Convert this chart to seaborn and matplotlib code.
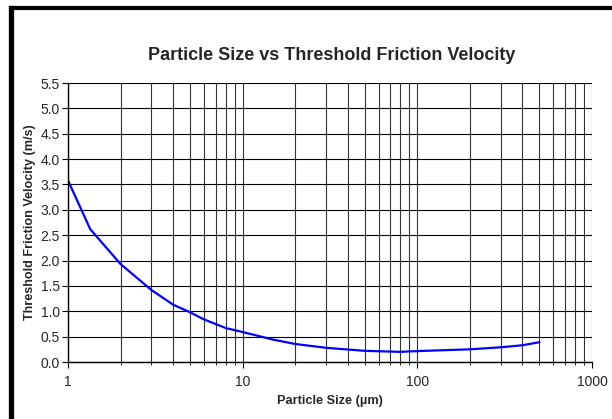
import matplotlib
matplotlib.use("Agg")
import matplotlib.pyplot as plt
import seaborn as sns
import pandas as pd
from matplotlib.lines import Line2D
from matplotlib.ticker import LogLocator, FixedLocator, NullFormatter

# --- data --------------------------------------------------------------
particle_size = [1, 1.34, 2, 3, 4, 5, 6, 8, 10, 15, 20, 30, 50, 80, 100, 200, 300, 400, 500]
threshold_velocity = [3.58, 2.62, 1.93, 1.42, 1.13, 0.98, 0.84, 0.67, 0.59, 0.44,
                      0.355, 0.28, 0.22, 0.20, 0.215, 0.25, 0.29, 0.33, 0.39]
y_ticks = [0.0, 0.5, 1.0, 1.5, 2.0, 2.5, 3.0, 3.5, 4.0, 4.5, 5.0, 5.5]
x_ticks = [1, 10, 100, 1000]

sns.set_style("white")
plt.rcParams["font.family"] = ["Liberation Sans", "DejaVu Sans"]

df = pd.DataFrame({"size": particle_size, "velocity": threshold_velocity})

fig = plt.figure(figsize=(6.12, 4.19), dpi=100)
ax = fig.add_axes([68 / 612, 1 - 362 / 419, (592 - 68) / 612, (362 - 83) / 419])

sns.lineplot(data=df, x="size", y="velocity", ax=ax, color="#0000ff", linewidth=1.6)

ax.set_xscale("log")
ax.set_xlim(1, 1000)
ax.set_ylim(0, 5.5)
ax.xaxis.set_major_locator(FixedLocator(x_ticks))
ax.set_xticklabels([str(t) for t in x_ticks])
ax.xaxis.set_minor_locator(LogLocator(base=10, subs=range(2, 10)))
ax.xaxis.set_minor_formatter(NullFormatter())
ax.set_yticks(y_ticks)
ax.set_yticklabels([f"{t:.1f}" for t in y_ticks])

ax.grid(True, which="both", axis="x", color="#333333", linewidth=0.8)
ax.grid(True, which="major", axis="y", color="#000000", linewidth=0.8)

for side in ["top", "right"]:
    ax.spines[side].set_visible(False)
for side in ["left", "bottom"]:
    ax.spines[side].set_color("black")
    ax.spines[side].set_linewidth(1.0)

ax.tick_params(axis="both", which="major", direction="out", length=4, width=0.8,
               color="black", labelsize=10, pad=2, bottom=True, left=True)
ax.tick_params(axis="x", which="major", pad=5)
ax.tick_params(axis="x", which="minor", direction="out", length=2, width=0.6, color="black", bottom=True)

ax.set_xlabel("Particle Size (µm)", fontsize=9.2, fontweight="bold", labelpad=5)
ax.set_ylabel("Threshold Friction Velocity (m/s)", fontsize=9.1, fontweight="bold", labelpad=3)
fig.text(0.542, 1 - 56 / 419, "Particle Size vs Threshold Friction Velocity",
         ha="center", va="center", fontsize=13, fontweight="bold")

# thick black frame on left and top edges
fig.add_artist(Line2D([10.5 / 612, 10.5 / 612], [0, 1 - 8 / 419], transform=fig.transFigure,
                      color="black", linewidth=3.8, solid_capstyle="projecting"))
fig.add_artist(Line2D([10.5 / 612, 1], [1 - 8 / 419, 1 - 8 / 419], transform=fig.transFigure,
                      color="black", linewidth=3.0, solid_capstyle="projecting"))

fig.savefig("out.png", dpi=100)
